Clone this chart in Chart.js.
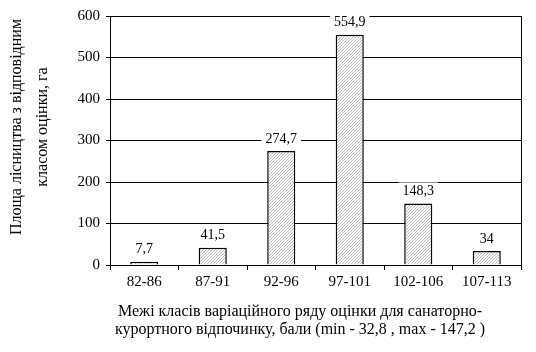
<!DOCTYPE html>
<html>
<head>
<meta charset="utf-8">
<script src="https://cdn.jsdelivr.net/npm/chart.js@4/dist/chart.umd.min.js"></script>
<style>
  body { margin: 0; background: #fff; }
  #wrap { width: 536px; height: 352px; position: relative; }
</style>
</head>
<body>
<div id="wrap"><canvas id="my-chart"></canvas></div>
<script>
const categories = ['82-86', '87-91', '92-96', '97-101', '102-106', '107-113'];
const areas = [7.7, 41.5, 274.7, 554.9, 148.3, 34];
const valueLabels = ['7,7', '41,5', '274,7', '554,9', '148,3', '34'];
const yTitle = ['Площа лісництва з відповідним', 'класом оцінки, га'];
const xTitle = ['Межі класів варіаційного ряду оцінки для санаторно-', 'курортного відпочинку, бали (min - 32,8 , max - 147,2 )'];

const FONT = '"Liberation Serif", "Times New Roman", serif';
Chart.defaults.font.family = FONT;
Chart.defaults.color = '#000';

// fine diagonal hatch
const makeHatch = () => {
  const c = document.createElement('canvas');
  c.width = 3; c.height = 3;
  const g = c.getContext('2d');
  g.fillStyle = '#fafafa';
  g.fillRect(0, 0, 3, 3);
  g.fillStyle = '#bdbdbd';
  g.fillRect(2, 0, 1, 1);
  g.fillRect(1, 1, 1, 1);
  g.fillRect(0, 2, 1, 1);
  return g.createPattern(c, 'repeat');
};

const extras = {
  id: 'extras',
  afterDatasetsDraw(chart) {
    const ctx = chart.ctx;
    const a = chart.chartArea;
    ctx.save();
    // right border
    ctx.strokeStyle = '#000';
    ctx.lineWidth = 1;
    ctx.beginPath();
    ctx.moveTo(Math.round(a.right) + 0.5, a.top);
    ctx.lineTo(Math.round(a.right) + 0.5, a.bottom);
    ctx.stroke();
    // value labels on white boxes
    ctx.font = '14px ' + FONT;
    ctx.textAlign = 'center';
    ctx.textBaseline = 'middle';
    chart.getDatasetMeta(0).data.forEach((bar, i) => {
      const t = valueLabels[i];
      const w = ctx.measureText(t).width + 8;
      const y = bar.y - 12;
      ctx.fillStyle = '#fff';
      ctx.fillRect(bar.x - w / 2, y - 9, w, 18);
      ctx.fillStyle = '#000';
      ctx.fillText(t, bar.x, y);
    });
    // axis titles
    ctx.font = '16px ' + FONT;
    ctx.save();
    ctx.translate(17, 127);
    ctx.rotate(-Math.PI / 2);
    ctx.fillText(yTitle[0], 0, 0);
    ctx.fillText(yTitle[1], 0, 26);
    ctx.restore();
    ctx.fillText(xTitle[0], 300, 312);
    ctx.fillText(xTitle[1], 300, 330);
    ctx.restore();
  }
};

new Chart(document.getElementById('my-chart').getContext('2d'), {
  type: 'bar',
  data: {
    labels: categories,
    datasets: [{
      data: areas,
      backgroundColor: makeHatch(),
      borderColor: '#000',
      borderWidth: 1.5,
      barPercentage: 0.41,
      categoryPercentage: 1
    }]
  },
  options: {
    responsive: true,
    maintainAspectRatio: false,
    animation: false,
    layout: { padding: { top: 16, right: 15, left: 0, bottom: 0 } },
    plugins: { legend: { display: false }, tooltip: { enabled: false } },
    scales: {
      x: {
        afterFit: s => { s.height = 87; },
        grid: { offset: true, drawOnChartArea: false, color: '#000', tickLength: 5 },
        border: { color: '#000', width: 1 },
        ticks: { font: { size: 15 }, padding: 3, maxRotation: 0 }
      },
      y: {
        min: 0, max: 600,
        afterFit: s => { s.width = 110; },
        grid: { color: '#000', tickLength: 4 },
        border: { color: '#000', width: 1 },
        ticks: { stepSize: 100, font: { size: 15 }, padding: 6 }
      }
    }
  },
  plugins: [extras]
});
</script>
</body>
</html>
